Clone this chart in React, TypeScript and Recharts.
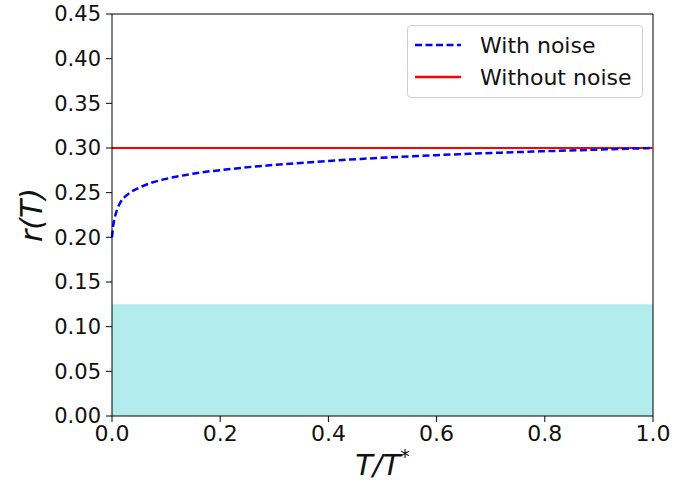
import {
  LineChart,
  Line,
  XAxis,
  YAxis,
  ReferenceArea,
  ReferenceLine,
} from "recharts";

// T/T* sample points and r(T)
const tValues = [0, 0.002, 0.0055, 0.01, 0.015, 0.025, 0.033, 0.05, 0.07, 0.09, 0.113, 0.14, 0.163, 0.2, 0.224, 0.26, 0.287, 0.342, 0.4, 0.46, 0.53, 0.6, 0.66, 0.72, 0.8, 0.86, 0.9, 0.95, 1.0];
const withNoise = [0.2, 0.212, 0.223, 0.232, 0.2385, 0.246, 0.25, 0.2555, 0.2605, 0.264, 0.2672, 0.2702, 0.2725, 0.2752, 0.2768, 0.279, 0.2804, 0.283, 0.2855, 0.2878, 0.29, 0.292, 0.2935, 0.2948, 0.2964, 0.2975, 0.2982, 0.2991, 0.3];
const withoutNoiseT = [0, 1];
const withoutNoise = [0.3, 0.3];
const shadedTop = 0.125;

const xTicks = [0, 0.2, 0.4, 0.6, 0.8, 1.0];
const yTicks = [0, 0.05, 0.1, 0.15, 0.2, 0.25, 0.3, 0.35, 0.4, 0.45];

const noiseData = tValues.map((t, i) => ({ t, r: withNoise[i] }));
const cleanData = withoutNoiseT.map((t, i) => ({ t, r: withoutNoise[i] }));

const font = "'DejaVu Sans', sans-serif";

function LegendBox() {
  return (
    <div
      style={{
        position: "absolute",
        left: 407,
        top: 25,
        boxSizing: "border-box",
        width: 236,
        height: 73,
        border: "1px solid #d0d0d0",
        borderRadius: 4,
        background: "#fff",
        padding: "3px 0 0 7px",
        fontFamily: font,
        fontSize: 22,
        color: "#111",
      }}
    >
      <div style={{ display: "flex", alignItems: "center", height: 32 }}>
        <svg width={48} height={10} style={{ marginRight: 17 }}>
          <line x1={0} y1={5} x2={46} y2={5} stroke="#0000ff" strokeWidth={2.5} strokeDasharray="7 3.5" />
        </svg>
        With noise
      </div>
      <div style={{ display: "flex", alignItems: "center", height: 32 }}>
        <svg width={48} height={10} style={{ marginRight: 17 }}>
          <line x1={0} y1={5} x2={46} y2={5} stroke="#ff0000" strokeWidth={2.5} />
        </svg>
        Without noise
      </div>
    </div>
  );
}

export default function App() {
  return (
    <div style={{ position: "absolute", left: 0, top: 0, width: 690, height: 487, background: "#fff" }}>
      <LineChart
        width={690}
        height={487}
        margin={{ top: 14, right: 37, bottom: 0, left: 0 }}
      >
        <ReferenceArea x1={0} x2={1} y1={0} y2={shadedTop} fill="#b3ecec" fillOpacity={1} stroke="none" />
        <XAxis
          dataKey="t"
          type="number"
          domain={[0, 1]}
          ticks={xTicks}
          tickFormatter={(v: number) => v.toFixed(1)}
          height={71}
          tickSize={6}
          tickMargin={3}
          stroke="#000"
          tick={{ fill: "#111", fontSize: 22, fontFamily: font }}
          allowDuplicatedCategory={false}
          label={({ viewBox }: any) => (
            <text
              x={viewBox.x + viewBox.width / 2}
              y={475}
              textAnchor="middle"
              fontFamily={font}
              fontStyle="italic"
              fontSize={29}
              fill="#111"
            >
              T/T
              <tspan dy={-12} fontSize={19} fontStyle="normal">*</tspan>
            </text>
          )}
        />
        <YAxis
          type="number"
          domain={[0, 0.45]}
          ticks={yTicks}
          tickFormatter={(v: number) => v.toFixed(2)}
          width={112}
          tickSize={6}
          tickMargin={5}
          stroke="#000"
          tick={{ fill: "#111", fontSize: 21, fontFamily: font }}
          label={{
            value: "r(T)",
            angle: -90,
            position: "insideLeft",
            dx: 26,
            style: { fontFamily: font, fontStyle: "italic", fontSize: 30, fill: "#111", textAnchor: "middle" },
          }}
        />
        <ReferenceLine y={0.45} stroke="#000" />
        <ReferenceLine x={1} stroke="#000" />
        <Line
          data={cleanData}
          dataKey="r"
          type="linear"
          stroke="#ff0000"
          strokeWidth={2}
          dot={false}
          isAnimationActive={false}
          name="Without noise"
        />
        <Line
          data={noiseData}
          dataKey="r"
          type="monotone"
          stroke="#0000ff"
          strokeWidth={2.5}
          strokeDasharray="7 3.5"
          dot={false}
          isAnimationActive={false}
          name="With noise"
        />
      </LineChart>
      <LegendBox />
    </div>
  );
}
